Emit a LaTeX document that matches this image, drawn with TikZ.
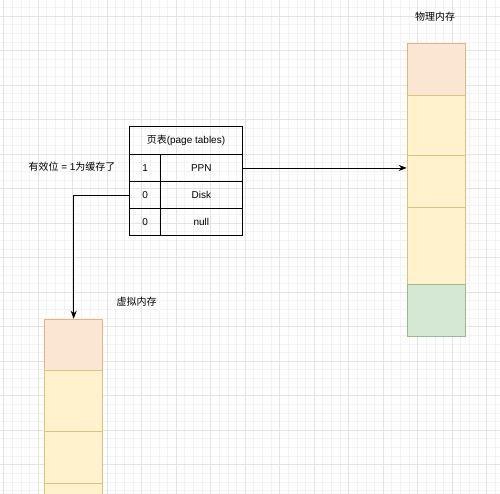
\documentclass[tikz,border=0pt]{standalone}
\usepackage{fontspec}
\setmainfont{Liberation Sans}
\newfontfamily\cjk{Noto Sans CJK SC}
\usetikzlibrary{arrows.meta, positioning}
\definecolor{fillorange}{HTML}{FAE6D3}
\definecolor{lineorange}{HTML}{E2B57E}
\definecolor{fillyellow}{HTML}{FFF2CC}
\definecolor{lineyellow}{HTML}{DCC27A}
\definecolor{fillgreen}{HTML}{D5E8D4}
\definecolor{linegreen}{HTML}{9DB88C}
\definecolor{gridminor}{HTML}{F3F3F3}
\definecolor{gridmajor}{HTML}{E4E4E4}

\begin{document}
\begin{tikzpicture}[x=1pt, y=-1pt, font=\fontsize{10}{12}\selectfont,
    cell/.style={draw, line width=.8pt, minimum width=58pt, inner sep=0pt, anchor=north west},
    tab/.style={draw, line width=.9pt, inner sep=0pt, anchor=north west},
    conn/.style={line width=.8pt, -{Stealth[length=8pt, width=6pt]}}]
    \useasboundingbox (0,0) rectangle (500,494);
    % background grid
    \foreach \k in {0,...,58} \draw[gridminor, line width=.5pt] (3.6+8.625*\k,0) -- ++(0,494);
    \foreach \k in {0,...,57} \draw[gridminor, line width=.5pt] (0,7.375+8.625*\k) -- ++(500,0);
    \foreach \k in {0,...,14} \draw[gridmajor, line width=.6pt] (3.6+34.5*\k,0) -- ++(0,494);
    \foreach \k in {0,...,13} \draw[gridmajor, line width=.6pt] (0,16+34.5*\k) -- ++(500,0);

    % physical memory
    \node (pmlabel) at (435,16.7) {\cjk 物理内存};
    \foreach \top/\h/\c [count=\i] in {42.7/52/orange, 94.7/60.3/yellow, 155/51.7/yellow, 206.7/77.6/yellow, 284.3/51.7/green}
        \node[cell, fill=fill\c, draw=line\c, minimum height=\h pt] (pm\i) at (406.7,\top) {};

    % virtual memory
    \node (vmlabel) at (136.7,301.7) {\cjk 虚拟内存};
    \foreach \top/\h/\c [count=\i] in {318.7/51.3/orange, 370/61/yellow, 431/52.3/yellow, 483.3/60/yellow}
        \node[cell, fill=fill\c, draw=line\c, minimum height=\h pt] (vm\i) at (44.3,\top) {};

    % page table
    \node[tab, minimum width=112.4pt, minimum height=28pt] (pt) at (129.3,126) {{\cjk 页表}(page tables)};
    \foreach \b/\e [count=\i] in {1/PPN, 0/Disk, 0/null}{
        \node[tab, minimum width=30.7pt, minimum height=27pt] (b\i) at (129.3,127+27*\i) {\b};
        \node[tab, minimum width=81.7pt, minimum height=27pt] (e\i) at (160,127+27*\i) {\e};
    }
    \node (validnote) at (72,167) {{\cjk 有效位} = 1{\cjk 为缓存了}};

    \draw[conn] (e1.east) -- (e1.east -| pm3.west);
    \draw[conn] (b2.west) -| (vm1.north);
\end{tikzpicture}
\end{document}
